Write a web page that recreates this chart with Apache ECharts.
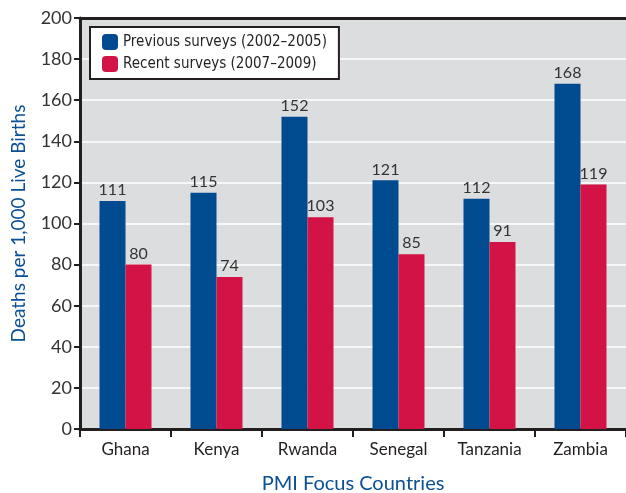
<!DOCTYPE html>
<html>
<head>
<meta charset="utf-8">
<script src="https://cdn.jsdelivr.net/npm/echarts@6/dist/echarts.min.js"></script>
<style>
  html, body { margin: 0; padding: 0; background: #fff; }
  #chart { width: 626px; height: 493px; }
</style>
</head>
<body>
<div id="chart"></div>
<script>
// 数据
var countries = ['Ghana', 'Kenya', 'Rwanda', 'Senegal', 'Tanzania', 'Zambia'];
var previousSurveys = [111, 115, 152, 121, 112, 168];
var recentSurveys = [80, 74, 103, 85, 91, 119];

var myChart = echarts.init(document.getElementById('chart'));

var labelStyle = {
    show: true,
    position: 'top',
    distance: 3,
    color: '#333',
    fontFamily: 'Lato',
    fontSize: 16
};

var option = {
    backgroundColor: '#fff',
    textStyle: { fontFamily: 'Lato' },
    grid: {
        left: 80,
        right: 0,
        top: 18,
        bottom: 64,
        outerBoundsMode: 'none',
        show: true,
        backgroundColor: '#dcdddf',
        borderWidth: 0
    },
    legend: {
        orient: 'vertical',
        left: 90,
        top: 27,
        itemWidth: 16,
        itemHeight: 16,
        itemGap: 6,
        padding: [7, 12, 7, 12],
        backgroundColor: '#fff',
        borderColor: '#231f20',
        borderWidth: 2,
        borderRadius: 0,
        textStyle: {
            fontFamily: 'DejaVu Sans Condensed',
            fontSize: 15,
            color: '#231f20'
        },
        data: ['Previous surveys (2002\u20132005)', 'Recent surveys (2007\u20132009)']
    },
    xAxis: [{
        type: 'category',
        data: countries,
        name: 'PMI Focus Countries',
        nameLocation: 'middle',
        nameGap: 45,
        nameTextStyle: { color: '#0b4f94', fontSize: 20, fontFamily: 'Lato' },
        axisLine: { lineStyle: { color: '#231f20', width: 3 } },
        axisTick: { show: true, length: 8, interval: 0, lineStyle: { color: '#231f20', width: 2 } },
        axisLabel: { color: '#231f20', fontSize: 17, margin: 12, interval: 0 }
    }, {
        type: 'category',
        position: 'top',
        data: countries,
        axisLine: { lineStyle: { color: '#231f20', width: 3 } },
        axisTick: { show: false },
        axisLabel: { show: false }
    }],
    yAxis: {
        type: 'value',
        min: 0,
        max: 200,
        interval: 20,
        name: 'Deaths per 1,000 Live Births',
        nameLocation: 'middle',
        nameGap: 52,
        nameTextStyle: { color: '#0b4f94', fontSize: 19, fontFamily: 'Lato' },
        axisLine: { show: true, lineStyle: { color: '#231f20', width: 3 } },
        axisTick: { show: true, length: 6, lineStyle: { color: '#231f20', width: 2 } },
        axisLabel: { color: '#333', fontSize: 18, margin: 8 },
        splitLine: { show: true, lineStyle: { color: '#fff', width: 1.5 } }
    },
    series: [{
        name: 'Previous surveys (2002\u20132005)',
        type: 'bar',
        barWidth: 26,
        barGap: '0%',
        itemStyle: { color: '#004a8f' },
        label: labelStyle,
        data: previousSurveys
    }, {
        name: 'Recent surveys (2007\u20132009)',
        type: 'bar',
        barWidth: 26,
        barGap: '0%',
        itemStyle: { color: '#d31245' },
        label: labelStyle,
        data: recentSurveys
    }]
};

myChart.setOption(option);
</script>
</body>
</html>
